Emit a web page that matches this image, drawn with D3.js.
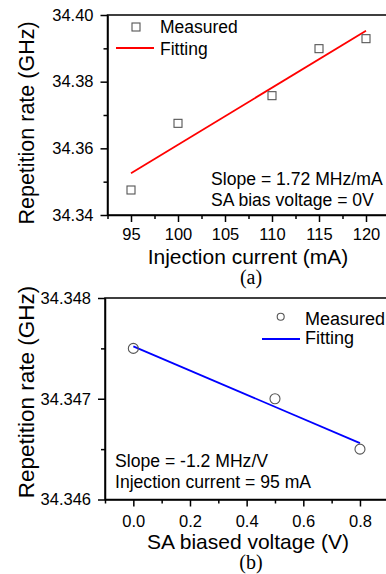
<!DOCTYPE html>
<html>
<head>
<meta charset="utf-8">
<script src="https://cdn.jsdelivr.net/npm/d3@7"></script>
<style>
  body { margin: 0; background: #fff; }
  svg { display: block; font-family: "Liberation Sans", Arial, sans-serif; }
  .tick line { stroke: #000; stroke-width: 1.5; }
  .domain { stroke: #000; stroke-width: 1.5; }
</style>
</head>
<body>
<svg id="chart" width="386" height="574"></svg>
<script>
// panel (a): repetition rate vs injection current
const currentA = [95, 100, 110, 115, 120];
const rateA = [34.3475, 34.3675, 34.3758, 34.3899, 34.3929];
const fitCurrentA = [95, 120];
const fitRateA = [34.3525, 34.3953];
const xTicksA = [95, 100, 105, 110, 115, 120];
const xMinorA = [92.5, 97.5, 102.5, 107.5, 112.5, 117.5, 122.5];
const yTicksA = [34.34, 34.36, 34.38, 34.40];
const yMinorA = [34.35, 34.37, 34.39];

// panel (b): repetition rate vs SA bias voltage
const voltageB = [0.0, 0.5, 0.8];
const rateB = [34.3475, 34.3470, 34.3465];
const fitVoltageB = [0.0, 0.8];
const fitRateB = [34.34752, 34.34656];
const xTicksB = [0.0, 0.2, 0.4, 0.6, 0.8];
const xMinorB = [-0.1, 0.1, 0.3, 0.5, 0.7, 0.9];
const yTicksB = [34.346, 34.347, 34.348];
const yMinorB = [34.3465, 34.3475];

const svg = d3.select("#chart");

function panel(o) {
    const g = svg.append("g");
    const x = d3.scaleLinear().domain(o.xDomain).range(o.xRange);
    const y = d3.scaleLinear().domain(o.yDomain).range(o.yRange);

    // frame
    g.append("rect")
        .attr("x", o.xRange[0]).attr("y", o.yRange[1])
        .attr("width", o.xRange[1] - o.xRange[0])
        .attr("height", o.yRange[0] - o.yRange[1])
        .attr("fill", "none").attr("stroke", "#000").attr("stroke-width", 1.5);

    // minor ticks
    g.append("g")
        .attr("transform", `translate(0,${o.yRange[0]})`)
        .call(d3.axisBottom(x).tickValues(o.xMinor).tickSize(4).tickFormat(""))
        .call(s => s.select(".domain").remove());
    g.append("g")
        .attr("transform", `translate(${o.xRange[0]},0)`)
        .call(d3.axisLeft(y).tickValues(o.yMinor).tickSize(4).tickFormat(""))
        .call(s => s.select(".domain").remove());

    // major ticks
    g.append("g")
        .attr("transform", `translate(0,${o.yRange[0]})`)
        .call(d3.axisBottom(x).tickValues(o.xTicks).tickSize(7).tickPadding(o.xPad)
            .tickFormat(d3.format(o.xFmt)).tickSizeOuter(0))
        .call(s => s.selectAll("text").attr("font-size", o.tickFont).attr("fill", "#000")
            .attr("font-family", "Liberation Sans, Arial, sans-serif"));
    g.append("g")
        .attr("transform", `translate(${o.xRange[0]},0)`)
        .call(d3.axisLeft(y).tickValues(o.yTicks).tickSize(7).tickPadding(7)
            .tickFormat(d3.format(o.yFmt)).tickSizeOuter(0))
        .call(s => s.selectAll("text").attr("font-size", o.tickFont).attr("fill", "#000")
            .attr("font-family", "Liberation Sans, Arial, sans-serif"));

    // fitted line
    const line = d3.line().x(d => x(d[0])).y(d => y(d[1]));
    g.append("path")
        .datum(d3.zip(o.fitX, o.fitY))
        .attr("d", line)
        .attr("fill", "none")
        .attr("stroke", o.color)
        .attr("stroke-width", 1.8);

    // measured points
    const pts = d3.zip(o.dataX, o.dataY);
    if (o.marker === "square") {
        g.selectAll(".pt").data(pts).enter().append("rect")
            .attr("class", "pt")
            .attr("x", d => x(d[0]) - 4).attr("y", d => y(d[1]) - 4)
            .attr("width", 8).attr("height", 8)
            .attr("fill", "none").attr("stroke", "#555").attr("stroke-width", 1.1);
    } else {
        g.selectAll(".pt").data(pts).enter().append("circle")
            .attr("class", "pt")
            .attr("cx", d => x(d[0])).attr("cy", d => y(d[1]))
            .attr("r", 5)
            .attr("fill", "none").attr("stroke", "#555").attr("stroke-width", 1.1);
    }

    // legend
    const lg = o.legend;
    if (o.marker === "square") {
        g.append("rect").attr("x", lg.mx - 4).attr("y", lg.my - 4)
            .attr("width", 8).attr("height", 8)
            .attr("fill", "none").attr("stroke", "#555").attr("stroke-width", 1.1);
    } else {
        g.append("circle").attr("cx", lg.mx).attr("cy", lg.my).attr("r", 3.5)
            .attr("fill", "none").attr("stroke", "#555").attr("stroke-width", 1.1);
    }
    g.append("line").attr("x1", lg.lx1).attr("x2", lg.lx2).attr("y1", lg.ly).attr("y2", lg.ly)
        .attr("stroke", o.color).attr("stroke-width", 1.8);
    g.append("text").attr("x", lg.tx).attr("y", lg.t1).attr("font-size", lg.font).text("Measured");
    g.append("text").attr("x", lg.tx).attr("y", lg.t2).attr("font-size", lg.font).text("Fitting");

    // annotation
    o.notes.forEach((t, i) => {
        g.append("text").attr("x", o.noteX).attr("y", o.noteY[i])
            .attr("font-size", 17.6).text(t);
    });

    // axis titles
    g.append("text")
        .attr("x", 248).attr("y", o.xTitleY)
        .attr("text-anchor", "middle").attr("font-size", 21)
        .text(o.xTitle);
    g.append("text")
        .attr("transform", `translate(34,${o.yTitleC}) rotate(-90)`)
        .attr("text-anchor", "middle").attr("font-size", o.yTitleFont)
        .text("Repetition rate (GHz)");
    g.append("text")
        .attr("x", 251).attr("y", o.capY)
        .attr("text-anchor", "middle").attr("font-size", 20)
        .attr("font-family", "Liberation Serif, Times New Roman, serif")
        .text(o.caption);
}

panel({
    xDomain: [92.5, 122.5], xRange: [107.5, 389.5],
    yDomain: [34.34, 34.40], yRange: [215, 15],
    xTicks: xTicksA, xMinor: xMinorA, yTicks: yTicksA, yMinor: yMinorA,
    xFmt: "d", yFmt: ".2f", xPad: 6, tickFont: 16.5,
    dataX: currentA, dataY: rateA, fitX: fitCurrentA, fitY: fitRateA,
    color: "#ff0000", marker: "square",
    legend: { mx: 136, my: 27, lx1: 116, lx2: 154, ly: 48, tx: 160, t1: 33, t2: 55, font: 17.5 },
    notes: ["Slope = 1.72 MHz/mA", "SA bias voltage = 0V"], noteX: 211, noteY: [185, 206],
    xTitle: "Injection current (mA)", xTitleY: 264,
    yTitleC: 123, yTitleFont: 21.5,
    caption: "(a)", capY: 284
});

panel({
    xDomain: [-0.1, 0.9], xRange: [105, 388.3],
    yDomain: [34.346, 34.348], yRange: [499.5, 298],
    xTicks: xTicksB, xMinor: xMinorB, yTicks: yTicksB, yMinor: yMinorB,
    xFmt: ".1f", yFmt: ".3f", xPad: 8.5, tickFont: 16.5,
    dataX: voltageB, dataY: rateB, fitX: fitVoltageB, fitY: fitRateB,
    color: "#0000ff", marker: "circle",
    legend: { mx: 280.7, my: 316.7, lx1: 262, lx2: 300, ly: 339, tx: 305, t1: 325, t2: 344, font: 18 },
    notes: ["Slope = -1.2 MHz/V", "Injection current = 95 mA"], noteX: 115, noteY: [467, 488],
    xTitle: "SA biased voltage (V)", xTitleY: 549,
    yTitleC: 392, yTitleFont: 22.5,
    caption: "(b)", capY: 569
});
</script>
</body>
</html>
